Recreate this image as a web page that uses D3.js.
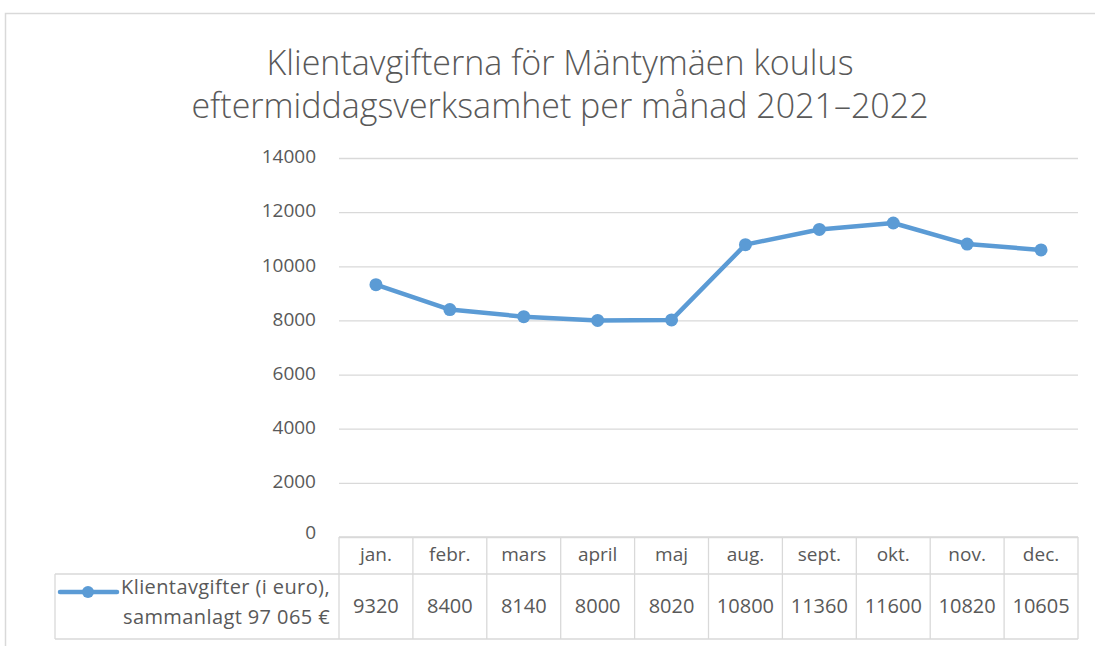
<!DOCTYPE html>
<html>
<head>
<meta charset="utf-8">
<script src="https://cdn.jsdelivr.net/npm/d3@7"></script>
<style>
  body { margin: 0; background: #fff; }
  svg { display: block; font-family: "Open Sans", Lato, sans-serif; }
</style>
</head>
<body>
<div id="chart"></div>
<script>
const months = ["jan.", "febr.", "mars", "april", "maj", "aug.", "sept.", "okt.", "nov.", "dec."];
const fees = [9320, 8400, 8140, 8000, 8020, 10800, 11360, 11600, 10820, 10605];
const yTicks = [0, 2000, 4000, 6000, 8000, 10000, 12000, 14000];
const titleLines = ["Klientavgifterna för Mäntymäen koulus", "eftermiddagsverksamhet per månad 2021–2022"];
const legendLines = ["Klientavgifter (i euro),", "sammanlagt 97 065 €"];

const W = 1095, H = 646;
const plot = { left: 339, right: 1078, top: 158, bottom: 537 };
const rowHead = 574, rowEnd = 639, legendLeft = 55;
const gridColor = "#d9d9d9", textColor = "#595959", lineColor = "#5b9bd5";

const svg = d3.select("#chart").append("svg")
    .attr("width", W)
    .attr("height", H);

// outer frame of the chart
svg.append("path")
    .attr("d", `M5.5,${H} V13.5 H${W}`)
    .attr("fill", "none")
    .attr("stroke", gridColor)
    .attr("stroke-width", 1.5);

const x = d3.scaleBand().domain(months).range([plot.left, plot.right]);
const y = d3.scaleLinear().domain([0, 14000]).range([plot.bottom, plot.top]);

// title
svg.append("text")
    .attr("text-anchor", "middle")
    .attr("fill", textColor)
    .attr("font-size", 34)
    .attr("font-weight", 300)
    .selectAll("tspan")
    .data(titleLines)
    .join("tspan")
    .attr("x", 560)
    .attr("y", (d, i) => 75 + i * 43)
    .text(d => d);

// gridlines + y labels
const yAxis = svg.append("g")
    .attr("transform", `translate(${plot.left},0)`)
    .call(d3.axisLeft(y).tickValues(yTicks).tickFormat(d3.format("d"))
        .tickSize(-(plot.right - plot.left)).tickPadding(23));
yAxis.select(".domain").remove();
yAxis.selectAll(".tick line").attr("stroke", gridColor).attr("stroke-width", 1.3);
yAxis.selectAll(".tick text")
    .attr("fill", textColor)
    .attr("font-size", 19)
    .attr("font-family", "'Open Sans', sans-serif")
    .attr("dy", "0.25em");
yAxis.selectAll(".tick").filter(d => d === 0).select("text").attr("dy", "0.1em");

// data table lines
const table = svg.append("g").attr("stroke", gridColor).attr("stroke-width", 1.3).attr("fill", "none");
table.append("line").attr("x1", plot.left).attr("x2", plot.right).attr("y1", plot.bottom).attr("y2", plot.bottom);
table.append("line").attr("x1", legendLeft).attr("x2", plot.right).attr("y1", rowHead).attr("y2", rowHead);
table.append("line").attr("x1", legendLeft).attr("x2", plot.right).attr("y1", rowEnd).attr("y2", rowEnd);
table.append("line").attr("x1", legendLeft).attr("x2", legendLeft).attr("y1", rowHead).attr("y2", rowEnd);
table.selectAll(".col")
    .data(months.concat(["end"]))
    .join("line")
    .attr("class", "col")
    .attr("x1", (d, i) => i < months.length ? x(d) : plot.right)
    .attr("x2", (d, i) => i < months.length ? x(d) : plot.right)
    .attr("y1", plot.bottom)
    .attr("y2", rowEnd);

// month labels
svg.selectAll(".month")
    .data(months)
    .join("text")
    .attr("class", "month")
    .attr("x", d => x(d) + x.bandwidth() / 2)
    .attr("y", 561)
    .attr("text-anchor", "middle")
    .attr("fill", textColor)
    .attr("font-size", 19)
    .text(d => d);

// values row
svg.selectAll(".val")
    .data(fees)
    .join("text")
    .attr("class", "val")
    .attr("x", (d, i) => x(months[i]) + x.bandwidth() / 2)
    .attr("y", 613)
    .attr("text-anchor", "middle")
    .attr("fill", textColor)
    .attr("font-size", 20)
    .text(d => d);

// legend key
svg.append("line")
    .attr("x1", 60).attr("x2", 117).attr("y1", 592).attr("y2", 592)
    .attr("stroke", lineColor).attr("stroke-width", 4.5).attr("stroke-linecap", "round");
svg.append("circle").attr("cx", 88).attr("cy", 592).attr("r", 6).attr("fill", lineColor);
svg.append("text")
    .attr("text-anchor", "end")
    .attr("fill", textColor)
    .attr("font-size", 20)
    .attr("letter-spacing", 0.4)
    .selectAll("tspan")
    .data(legendLines)
    .join("tspan")
    .attr("x", 330)
    .attr("y", (d, i) => 594 + i * 30)
    .text(d => d);

// series line
const line = d3.line()
    .x((d, i) => x(months[i]) + x.bandwidth() / 2)
    .y(d => y(d));

svg.append("path")
    .datum(fees)
    .attr("d", line)
    .attr("fill", "none")
    .attr("stroke", lineColor)
    .attr("stroke-width", 4.5)
    .attr("stroke-linejoin", "round");

svg.selectAll(".dot")
    .data(fees)
    .join("circle")
    .attr("class", "dot")
    .attr("cx", (d, i) => x(months[i]) + x.bandwidth() / 2)
    .attr("cy", d => y(d))
    .attr("r", 6.5)
    .attr("fill", lineColor);
</script>
</body>
</html>
